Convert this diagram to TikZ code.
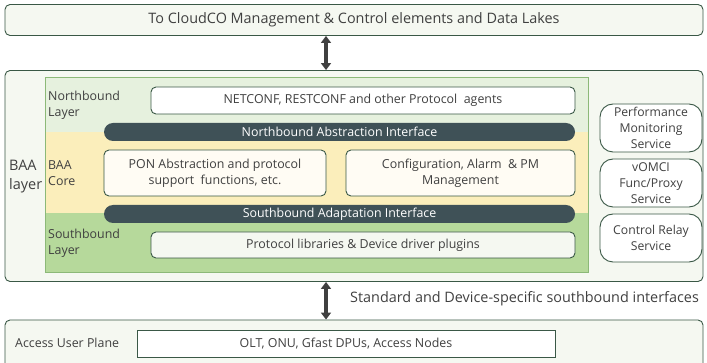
\documentclass[tikz,border=0pt]{standalone}
\usepackage{fontspec}
\setmainfont{Open Sans}
\usetikzlibrary{arrows.meta}
\definecolor{edgegreen}{RGB}{58,88,70}
\definecolor{panelfill}{RGB}{245,248,241}
\definecolor{nbfill}{RGB}{230,241,222}
\definecolor{corefill}{RGB}{251,238,187}
\definecolor{sbfill}{RGB}{182,217,155}
\definecolor{sbedge}{RGB}{140,185,120}
\definecolor{barfill}{RGB}{63,81,87}
\definecolor{creamfill}{RGB}{255,252,244}
\definecolor{textgray}{RGB}{64,64,64}

\tikzset{
	panel/.style = {draw = edgegreen, fill = panelfill, rounded corners = 5pt, line width = 0.9pt},
	innerbox/.style = {draw = edgegreen, rounded corners = 5pt, line width = 0.9pt, align = center},
	svcbox/.style = {draw = edgegreen, fill = white, rounded corners = 13pt, line width = 0.9pt, align = center, minimum width = 102pt, minimum height = 48pt, inner sep = 0pt, font = \fontsize{12.2}{16}\selectfont},
	bar/.style = {fill = barfill, rounded corners = 9pt, minimum width = 471pt, minimum height = 18pt, text = white, inner sep = 0pt},
	layer/.style = {minimum width = 543pt, inner sep = 0pt},
	lbl/.style = {align = left, anchor = west, inner sep = 0pt},
	bigtext/.style = {font = \fontsize{14.4}{18}\selectfont},
	bothway/.style = {{Triangle[width=10pt,length=7pt]}-{Triangle[width=10pt,length=7pt]}, line width = 3.5pt, draw = textgray}
}

\begin{document}
\begin{tikzpicture}[x = 1pt, y = -1pt, font = \fontsize{12.4}{16}\selectfont, text = textgray]
			\useasboundingbox (0,0) rectangle (707,363);
			\clip (0,0) rectangle (707,363);
			% upper level and the BAA frame
			\node (cloud) at (354,20) [panel, bigtext, minimum width = 698pt, minimum height = 31pt] {To CloudCO Management \& Control elements and Data Lakes};
			\node (baa) at (354,176) [panel, minimum width = 698pt, minimum height = 211pt] {};
			\node (access) at (354,345) [panel, minimum width = 698pt, minimum height = 50pt] {};
			\coordinate (arrx) at (326,0);
			% three layers
			\node (nb) at (317,105) [layer, fill = nbfill, minimum height = 54pt] {};
			\node (core) at (317,172.5) [layer, fill = corefill, minimum height = 81pt] {};
			\node (sb) at (317,242.5) [layer, fill = sbfill, minimum height = 59pt] {};
			\draw [sbedge, line width = 0.8pt] (nb.north west) rectangle (sb.south east);
			\node (nblbl) at (48,105) [lbl] {Northbound\\Layer};
			\node (corelbl) at (48,173) [lbl] {BAA\\Core};
			\node (sblbl) at (48,243) [lbl] {Southbound\\Layer};
			\node (baalbl) at (9,177) [lbl, font = \fontsize{14.5}{19}\selectfont] {BAA\\layer};
			% boxes inside the layers
			\node (agents) at (363,100.5) [innerbox, fill = white, minimum width = 424pt, minimum height = 27pt] {NETCONF, RESTCONF and other Protocol\ \ agents};
			\node (nbi) at (339.5,132) [bar] {Northbound Abstraction Interface};
			\node (pon) at (215,173) [innerbox, fill = creamfill, minimum width = 222pt, minimum height = 46pt] {PON Abstraction and protocol\\support\ \ functions, etc.};
			\node (cfg) at (460.5,173) [innerbox, fill = creamfill, minimum width = 229pt, minimum height = 46pt] {Configuration, Alarm\ \ \& PM\\Management};
			\node (sbi) at (339.5,214) [bar] {Southbound Adaptation Interface};
			\node (plugins) at (363,245) [innerbox, fill = panelfill, minimum width = 424pt, minimum height = 26pt] {Protocol libraries \& Device driver plugins};
			% services on the right
			\node (pm) at (651,128) [svcbox] {Performance\\Monitoring\\Service};
			\node (vomci) at (651,183) [svcbox] {vOMCI\\Func/Proxy\\Service};
			\node (relay) at (651,238) [svcbox] {Control Relay\\Service};
			% access plane
			\node (aplbl) at (15,343) [anchor = west, inner sep = 0pt] {Access User Plane};
			\node (nodes) at (346,343.5) [draw = edgegreen, fill = white, line width = 0.9pt, minimum width = 418pt, minimum height = 27pt] {OLT, ONU, Gfast DPUs, Access Nodes};
			% interfaces between levels
			\draw [bothway] (cloud.south -| arrx) -- (baa.north -| arrx);
			\draw [bothway] (baa.south -| arrx) -- (access.north -| arrx);
			\node (sbif) at (350,299) [anchor = west, inner sep = 0pt, bigtext] {Standard and Device-specific southbound interfaces};
\end{tikzpicture}
\end{document}
